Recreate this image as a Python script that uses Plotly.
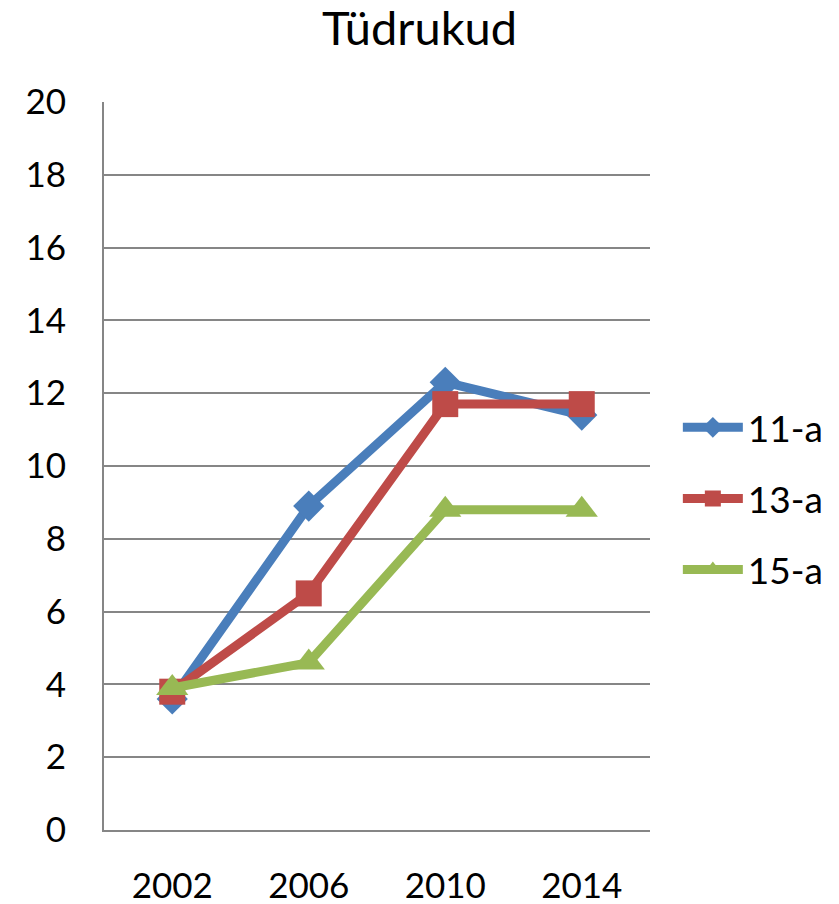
import plotly.graph_objects as go

years = ["2002", "2006", "2010", "2014"]
series_names = ["11-a", "13-a", "15-a"]
age11 = [3.6, 8.9, 12.3, 11.4]
age13 = [3.8, 6.5, 11.7, 11.7]
age15 = [3.9, 4.6, 8.8, 8.8]
y_ticks = [0, 2, 4, 6, 8, 10, 12, 14, 16, 18, 20]

colors = ["#4A7EBB", "#BE4B48", "#98B954"]
symbols = ["diamond", "square", "triangle-up"]
sizes = [24, 26, 28]

fig = go.Figure()
for name, vals, col, sym, sz in zip(series_names, [age11, age13, age15], colors, symbols, sizes):
    fig.add_trace(go.Scatter(
        x=years, y=vals, name=name, legendgroup=name, mode="lines+markers",
        line=dict(color=col, width=9),
        marker=dict(symbol=sym, size=sz, color=col, line=dict(width=0)),
    ))

font_family = "Lato, Carlito, Calibri, sans-serif"

fig.update_layout(
    width=839, height=904,
    paper_bgcolor="white", plot_bgcolor="white",
    margin=dict(l=104, r=189, t=102, b=74, autoexpand=False),
    title=dict(text="Tüdrukud", x=0.5, xanchor="center", y=0.968, yanchor="middle",
               font=dict(family=font_family, size=47, color="black")),
    font=dict(family=font_family, size=35, color="black"),
    showlegend=True,
    legend=dict(x=1.051, xanchor="left", y=0.455, yanchor="middle",
                font=dict(size=37, color="black"), itemwidth=60,
                tracegroupgap=20, bgcolor="rgba(0,0,0,0)"),
    xaxis=dict(type="category", range=[-0.5, 3.5], showgrid=False,
               showline=True, linecolor="#868686", linewidth=2,
               ticks="", ticklabelstandoff=24, tickfont=dict(size=35)),
    yaxis=dict(range=[0, 20], tickvals=y_ticks, showgrid=True,
               gridcolor="#868686", gridwidth=1.5,
               showline=True, linecolor="#868686", linewidth=2,
               zeroline=False, ticks="", ticklabelstandoff=29,
               tickfont=dict(size=35)),
)

fig.write_html("out.html")
